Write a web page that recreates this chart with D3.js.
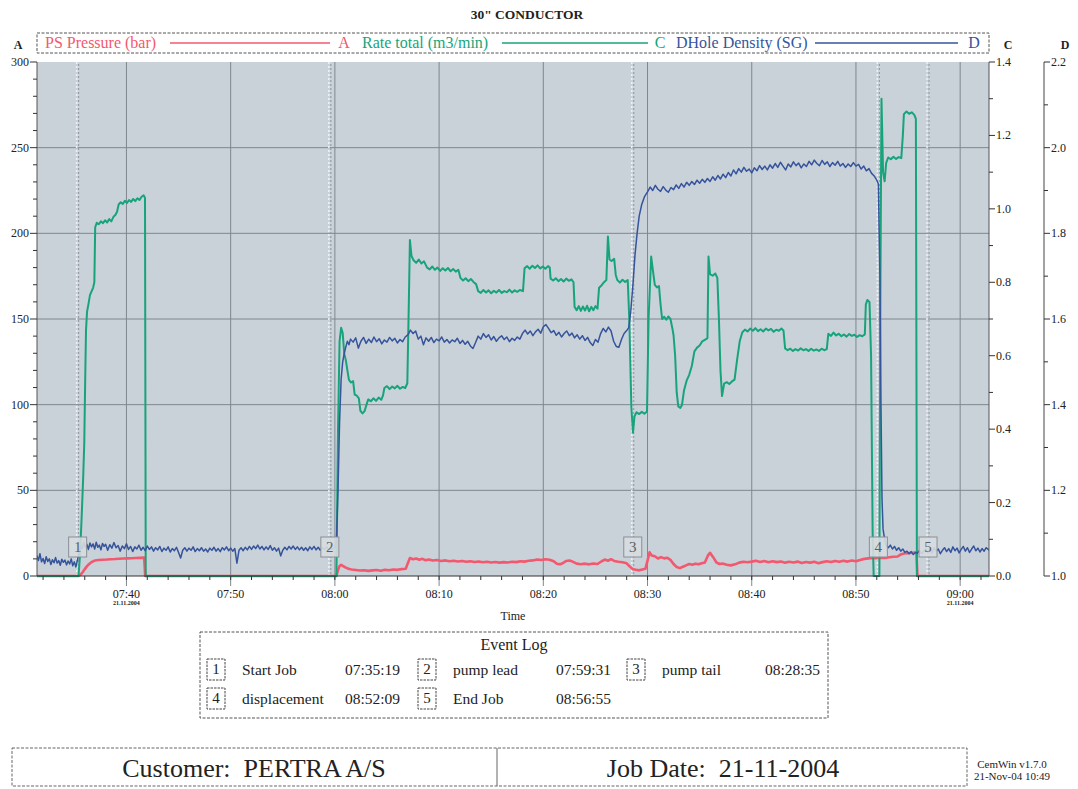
<!DOCTYPE html>
<html>
<head>
<meta charset="utf-8">
<script src="https://cdn.jsdelivr.net/npm/d3@7"></script>
<style>
html, body { margin: 0; padding: 0; background: #fff; }
svg { display: block; font-family: "Liberation Serif", "Times New Roman", serif; }
</style>
</head>
<body>
<svg id="chart" width="1078" height="789"></svg>
<script>
// Logged readings: [minutes after 07:00, value]
const pressureReadings = [
  [31.4,0],[35.4,0],[35.6,0.8],[35.8,2.2],[36.0,4.0],[36.2,5.6],[36.4,6.9],[36.6,7.9],[36.8,8.6],[37.0,9.0],
  [37.3,9.3],[37.7,9.5],[38.1,9.6],[38.5,9.8],[38.9,9.9],[39.3,10.1],[39.7,10.2],[40.1,10.3],[40.5,10.4],[40.9,10.5],
  [41.3,10.6],[41.7,10.7],[41.8,0],[60.15,0],[60.3,3.5],[60.45,5.8],[60.6,6.5],[60.8,5.8],[61.0,5.0],[61.3,4.2],
  [61.6,3.8],[62.0,3.5],[62.4,3.2],[62.8,3.4],[63.2,3.0],[63.6,3.3],[64.0,3.5],[64.4,3.1],[64.8,3.6],[65.2,3.4],
  [65.6,3.8],[66.0,3.6],[66.4,4.0],[66.8,4.2],[67.0,7.5],[67.2,10.5],[67.5,9.8],[67.8,10.2],[68.1,9.5],[68.4,10.0],
  [68.7,9.2],[69.0,9.6],[69.4,9.0],[69.8,9.3],[70.2,8.8],[70.6,9.1],[71.0,8.6],[71.4,8.9],[71.8,8.5],[72.2,8.8],
  [72.6,8.3],[73.0,8.6],[73.4,8.2],[73.8,8.5],[74.2,8.0],[74.6,8.3],[75.0,7.9],[75.4,8.2],[75.8,7.8],[76.2,8.1],
  [76.6,7.9],[77.0,8.3],[77.4,8.1],[77.8,8.6],[78.2,8.4],[78.6,8.9],[79.0,9.1],[79.4,9.6],[79.8,9.3],[80.2,9.8],
  [80.6,9.5],[81.0,8.6],[81.3,7.2],[81.6,6.8],[81.9,7.6],[82.2,8.8],[82.5,9.0],[82.8,8.4],[83.2,7.2],[83.6,6.9],
  [84.0,7.2],[84.4,6.8],[84.8,7.3],[85.2,7.0],[85.6,8.6],[85.9,9.6],[86.2,8.9],[86.5,9.8],[86.8,8.8],[87.2,8.3],
  [87.6,8.0],[88.0,7.4],[88.3,5.5],[88.6,4.0],[88.9,3.6],[89.2,3.3],[89.5,3.8],[89.8,4.2],[90.0,9.0],[90.2,13.8],
  [90.4,12.0],[90.7,11.5],[91.0,10.2],[91.3,11.0],[91.6,10.3],[91.9,10.6],[92.2,9.4],[92.5,7.0],[92.8,5.2],[93.1,4.6],
  [93.4,5.4],[93.7,6.2],[94.0,7.0],[94.3,6.6],[94.6,7.2],[94.9,6.8],[95.2,7.4],[95.5,7.9],[95.8,12.0],[96.0,13.5],
  [96.3,11.0],[96.6,8.0],[96.9,7.0],[97.2,7.3],[97.6,6.6],[98.0,6.2],[98.4,6.8],[98.8,7.8],[99.2,8.3],[99.6,8.0],
  [100.0,8.4],[100.4,8.9],[100.8,8.2],[101.2,8.7],[101.6,8.0],[102.0,8.6],[102.4,8.1],[102.8,8.5],[103.2,7.8],[103.6,8.3],
  [104.0,7.9],[104.4,8.4],[104.8,7.6],[105.2,8.2],[105.6,7.8],[106.0,8.3],[106.4,7.5],[106.8,8.1],[107.2,8.6],[107.6,8.2],
  [108.0,8.8],[108.4,8.3],[108.8,8.9],[109.2,8.4],[109.6,9.0],[110.0,8.6],[110.4,9.4],[110.8,10.0],[111.2,10.3],[111.6,10.6],
  [112.0,10.4],[112.4,10.7],[112.8,10.5],[113.2,10.9],[113.6,11.2],[114.0,11.4],[114.3,12.6],[114.6,13.1],[115.0,13.3],[115.4,13.6],
  [115.8,13.8],[115.9,0],[122.8,0]
];

const rateReadings = [
  [31.4,0],[35.4,0],[35.55,0.06],[35.7,0.16],[35.85,0.27],[35.95,0.36],[36.05,0.55],[36.12,0.67],[36.22,0.72],[36.35,0.74],
  [36.5,0.765],[36.65,0.775],[36.8,0.785],[36.92,0.80],[37.0,0.95],[37.15,0.962],[37.35,0.958],[37.55,0.966],[37.75,0.961],[37.95,0.969],
  [38.15,0.963],[38.35,0.972],[38.55,0.966],[38.75,0.978],[38.95,0.984],[39.1,0.992],[39.25,1.012],[39.45,1.018],[39.65,1.013],[39.85,1.022],
  [40.05,1.016],[40.25,1.024],[40.45,1.019],[40.65,1.027],[40.85,1.021],[41.05,1.029],[41.25,1.024],[41.45,1.033],[41.65,1.037],[41.78,1.030],
  [41.85,0],[60.15,0],[60.3,0.40],[60.45,0.64],[60.6,0.676],[60.75,0.662],[60.9,0.605],[61.05,0.588],[61.2,0.560],[61.35,0.534],
  [61.55,0.527],[61.75,0.531],[61.9,0.494],[62.1,0.491],[62.3,0.484],[62.45,0.450],[62.65,0.443],[62.85,0.449],[63.05,0.468],[63.2,0.481],
  [63.45,0.476],[63.7,0.484],[63.95,0.477],[64.2,0.486],[64.45,0.480],[64.62,0.492],[64.75,0.512],[65.0,0.517],[65.25,0.509],[65.5,0.516],
  [65.75,0.511],[66.0,0.518],[66.25,0.510],[66.5,0.515],[66.75,0.512],[66.95,0.525],[67.1,0.75],[67.2,0.915],[67.35,0.872],[67.55,0.860],
  [67.8,0.853],[68.05,0.862],[68.3,0.851],[68.55,0.857],[68.85,0.840],[69.1,0.835],[69.35,0.843],[69.6,0.834],[69.85,0.840],[70.1,0.831],
  [70.35,0.838],[70.6,0.832],[70.85,0.839],[71.1,0.830],[71.35,0.836],[71.6,0.829],[71.85,0.834],[72.05,0.812],[72.3,0.805],[72.55,0.811],
  [72.8,0.803],[73.05,0.809],[73.3,0.801],[73.55,0.795],[73.75,0.776],[74.0,0.771],[74.25,0.779],[74.5,0.772],[74.75,0.778],[75.0,0.770],
  [75.25,0.777],[75.5,0.772],[75.75,0.779],[76.0,0.771],[76.25,0.776],[76.5,0.773],[76.75,0.780],[77.0,0.772],[77.25,0.778],[77.5,0.774],
  [77.75,0.779],[78.05,0.776],[78.2,0.838],[78.45,0.844],[78.7,0.837],[78.95,0.845],[79.2,0.839],[79.45,0.846],[79.7,0.838],[79.95,0.843],
  [80.2,0.837],[80.45,0.844],[80.62,0.840],[80.7,0.810],[80.95,0.805],[81.2,0.811],[81.45,0.803],[81.7,0.809],[81.95,0.802],[82.2,0.810],
  [82.45,0.804],[82.7,0.808],[82.9,0.800],[83.0,0.733],[83.2,0.724],[83.4,0.735],[83.6,0.722],[83.8,0.734],[84.0,0.723],[84.2,0.736],
  [84.4,0.721],[84.6,0.733],[84.8,0.724],[85.0,0.735],[85.2,0.728],[85.35,0.785],[85.6,0.792],[85.85,0.801],[86.05,0.806],[86.2,0.925],
  [86.35,0.862],[86.55,0.858],[86.8,0.864],[86.95,0.820],[87.1,0.806],[87.35,0.799],[87.6,0.807],[87.85,0.801],[88.1,0.806],[88.25,0.70],
  [88.45,0.46],[88.6,0.39],[88.75,0.435],[88.95,0.446],[89.2,0.441],[89.45,0.447],[89.7,0.442],[89.95,0.448],[90.1,0.70],[90.35,0.870],
  [90.55,0.825],[90.7,0.793],[90.9,0.786],[91.1,0.790],[91.25,0.740],[91.4,0.700],[91.6,0.706],[91.8,0.698],[92.0,0.707],[92.2,0.700],
  [92.4,0.672],[92.5,0.655],[92.65,0.600],[92.8,0.500],[92.95,0.462],[93.15,0.458],[93.3,0.465],[93.5,0.505],[93.75,0.532],[94.0,0.548],
  [94.25,0.572],[94.5,0.612],[94.75,0.622],[95.0,0.628],[95.25,0.639],[95.5,0.643],[95.75,0.648],[95.85,0.870],[96.0,0.822],[96.25,0.818],
  [96.5,0.824],[96.7,0.812],[96.85,0.700],[97.0,0.560],[97.15,0.490],[97.35,0.524],[97.6,0.528],[97.85,0.523],[98.1,0.530],[98.35,0.535],
  [98.6,0.590],[98.85,0.640],[99.1,0.664],[99.35,0.671],[99.6,0.666],[99.85,0.674],[100.1,0.668],[100.35,0.675],[100.6,0.667],[100.85,0.672],
  [101.1,0.666],[101.35,0.674],[101.6,0.669],[101.85,0.673],[102.1,0.665],[102.35,0.671],[102.6,0.668],[102.85,0.674],[103.05,0.668],[103.2,0.620],
  [103.45,0.615],[103.7,0.619],[103.95,0.613],[104.2,0.618],[104.45,0.614],[104.7,0.620],[104.95,0.615],[105.2,0.618],[105.45,0.613],[105.7,0.619],
  [105.95,0.614],[106.2,0.617],[106.45,0.613],[106.7,0.619],[106.95,0.615],[107.2,0.618],[107.35,0.660],[107.6,0.654],[107.85,0.663],[108.1,0.655],
  [108.35,0.660],[108.6,0.653],[108.85,0.658],[109.1,0.652],[109.35,0.659],[109.6,0.654],[109.85,0.657],[110.1,0.651],[110.35,0.656],[110.6,0.653],
  [110.85,0.658],[110.95,0.740],[111.1,0.752],[111.3,0.746],[111.45,0.600],[111.6,0.120],[111.7,0],[112.25,0],[112.35,0.80],[112.45,1.30],
  [112.6,1.10],[112.75,1.075],[112.9,1.125],[113.1,1.140],[113.35,1.135],[113.6,1.142],[113.85,1.136],[114.1,1.141],[114.35,1.138],[114.5,1.200],
  [114.6,1.258],[114.85,1.265],[115.1,1.259],[115.35,1.263],[115.6,1.256],[115.75,1.245],[115.85,0],[122.8,0]
];

const densityReadings = [
  [31.4,1.048],[31.55,1.036],[31.7,1.052],[31.85,1.033],[32.0,1.041],[32.15,1.029],[32.3,1.045],[32.45,1.034],[32.6,1.040],[32.75,1.027],
  [32.9,1.038],[33.05,1.031],[33.2,1.043],[33.35,1.030],[33.5,1.036],[33.65,1.025],[33.8,1.039],[33.95,1.032],[34.1,1.037],[34.25,1.026],
  [34.4,1.035],[34.55,1.028],[34.7,1.040],[34.85,1.024],[35.0,1.033],[35.15,1.021],[35.3,1.038],[35.45,1.055],[35.6,1.071],[35.75,1.064],
  [35.9,1.078],[36.05,1.066],[36.2,1.074],[36.35,1.062],[36.5,1.077],[36.65,1.068],[36.8,1.075],[36.95,1.063],[37.1,1.079],[37.25,1.067],
  [37.4,1.072],[37.55,1.061],[37.7,1.076],[37.85,1.069],[38.0,1.074],[38.2,1.060],[38.4,1.073],[38.6,1.065],[38.8,1.078],[39.0,1.066],
  [39.2,1.071],[39.4,1.058],[39.6,1.070],[39.8,1.064],[40.0,1.075],[40.2,1.062],[40.4,1.069],[40.6,1.057],[40.8,1.068],[41.0,1.063],
  [41.2,1.072],[41.4,1.060],[41.6,1.067],[41.8,1.059],[42.0,1.070],[42.2,1.062],[42.4,1.068],[42.6,1.058],[42.8,1.066],[43.0,1.061],
  [43.2,1.069],[43.4,1.057],[43.6,1.065],[43.8,1.060],[44.0,1.068],[44.2,1.056],[44.4,1.064],[44.6,1.059],[44.8,1.067],[45.0,1.055],
  [45.2,1.042],[45.4,1.060],[45.6,1.066],[45.8,1.058],[46.0,1.065],[46.2,1.060],[46.4,1.068],[46.6,1.057],[46.8,1.064],[47.0,1.059],
  [47.2,1.066],[47.4,1.058],[47.6,1.063],[47.8,1.056],[48.0,1.065],[48.2,1.060],[48.4,1.067],[48.6,1.058],[48.8,1.064],[49.0,1.057],
  [49.2,1.066],[49.4,1.061],[49.6,1.068],[49.8,1.059],[50.0,1.065],[50.2,1.058],[50.4,1.064],[50.6,1.030],[50.8,1.060],[51.0,1.066],
  [51.2,1.059],[51.4,1.067],[51.6,1.061],[51.8,1.069],[52.0,1.062],[52.2,1.070],[52.4,1.064],[52.6,1.072],[52.8,1.063],[53.0,1.069],
  [53.2,1.061],[53.4,1.068],[53.6,1.062],[53.8,1.071],[54.0,1.060],[54.2,1.066],[54.4,1.058],[54.6,1.065],[54.8,1.047],[55.0,1.060],
  [55.2,1.067],[55.4,1.061],[55.6,1.069],[55.8,1.063],[56.0,1.070],[56.2,1.062],[56.4,1.068],[56.6,1.061],[56.8,1.067],[57.0,1.060],
  [57.2,1.066],[57.4,1.059],[57.6,1.068],[57.8,1.062],[58.0,1.069],[58.2,1.061],[58.4,1.067],[58.6,1.060],[58.8,1.066],[59.0,1.062],
  [59.2,1.068],[59.4,1.061],[59.6,1.066],[59.8,1.063],[60.0,1.067],[60.15,1.080],[60.3,1.20],[60.45,1.36],[60.6,1.46],[60.75,1.50],
  [60.9,1.52],[61.05,1.535],[61.2,1.548],[61.35,1.540],[61.5,1.553],[61.75,1.546],[62.0,1.556],[62.25,1.532],[62.5,1.548],[62.75,1.557],
  [63.0,1.543],[63.25,1.553],[63.5,1.545],[63.75,1.558],[64.0,1.547],[64.25,1.554],[64.5,1.542],[64.75,1.551],[65.0,1.546],[65.25,1.557],
  [65.5,1.549],[65.75,1.555],[66.0,1.544],[66.25,1.552],[66.5,1.547],[66.75,1.558],[67.0,1.563],[67.25,1.574],[67.5,1.566],[67.75,1.572],
  [68.0,1.553],[68.25,1.560],[68.5,1.540],[68.75,1.556],[69.0,1.548],[69.25,1.557],[69.5,1.545],[69.75,1.553],[70.0,1.549],[70.25,1.558],
  [70.5,1.546],[70.75,1.552],[71.0,1.544],[71.25,1.551],[71.5,1.547],[71.75,1.555],[72.0,1.543],[72.25,1.550],[72.5,1.541],[72.75,1.548],
  [73.0,1.537],[73.25,1.531],[73.5,1.545],[73.75,1.560],[74.0,1.553],[74.25,1.566],[74.5,1.557],[74.75,1.563],[75.0,1.551],[75.25,1.559],
  [75.5,1.548],[75.75,1.556],[76.0,1.561],[76.25,1.552],[76.5,1.558],[76.75,1.547],[77.0,1.555],[77.25,1.550],[77.5,1.558],[77.75,1.553],
  [78.0,1.566],[78.25,1.574],[78.5,1.565],[78.75,1.572],[79.0,1.561],[79.25,1.570],[79.5,1.576],[79.75,1.567],[80.0,1.582],[80.25,1.587],
  [80.5,1.578],[80.75,1.568],[81.0,1.573],[81.25,1.562],[81.5,1.569],[81.75,1.558],[82.0,1.566],[82.25,1.572],[82.5,1.561],[82.75,1.567],
  [83.0,1.556],[83.25,1.563],[83.5,1.553],[83.75,1.561],[84.0,1.550],[84.25,1.557],[84.5,1.545],[84.75,1.538],[85.0,1.552],[85.25,1.546],
  [85.5,1.566],[85.75,1.578],[86.0,1.570],[86.25,1.581],[86.5,1.572],[86.75,1.548],[87.0,1.536],[87.25,1.534],[87.5,1.552],[87.75,1.566],
  [88.0,1.573],[88.2,1.580],[88.4,1.62],[88.6,1.68],[88.8,1.75],[89.0,1.80],[89.2,1.84],[89.45,1.868],[89.7,1.885],[90.0,1.897],
  [90.25,1.908],[90.5,1.900],[90.75,1.912],[91.0,1.903],[91.25,1.898],[91.5,1.909],[91.75,1.901],[92.0,1.896],[92.25,1.907],[92.5,1.902],
  [92.75,1.913],[93.0,1.905],[93.25,1.916],[93.5,1.908],[93.75,1.919],[94.0,1.912],[94.25,1.921],[94.5,1.914],[94.75,1.924],[95.0,1.917],
  [95.25,1.926],[95.5,1.919],[95.75,1.928],[96.0,1.921],[96.25,1.932],[96.5,1.924],[96.75,1.935],[97.0,1.927],[97.25,1.938],[97.5,1.930],
  [97.75,1.942],[98.0,1.934],[98.25,1.948],[98.5,1.939],[98.75,1.951],[99.0,1.943],[99.25,1.954],[99.5,1.945],[99.75,1.950],[100.0,1.941],
  [100.25,1.953],[100.5,1.946],[100.75,1.958],[101.0,1.949],[101.25,1.957],[101.5,1.948],[101.75,1.960],[102.0,1.952],[102.25,1.963],[102.5,1.954],
  [102.75,1.966],[103.0,1.957],[103.25,1.948],[103.5,1.962],[103.75,1.955],[104.0,1.967],[104.25,1.958],[104.5,1.964],[104.75,1.953],[105.0,1.962],
  [105.25,1.956],[105.5,1.968],[105.75,1.960],[106.0,1.971],[106.25,1.963],[106.5,1.958],[106.75,1.970],[107.0,1.961],[107.25,1.967],[107.5,1.956],
  [107.75,1.965],[108.0,1.959],[108.25,1.968],[108.5,1.957],[108.75,1.963],[109.0,1.954],[109.25,1.962],[109.5,1.956],[109.75,1.965],[110.0,1.957],
  [110.25,1.961],[110.5,1.950],[110.75,1.957],[111.0,1.946],[111.25,1.951],[111.5,1.940],[111.75,1.934],[112.0,1.924],[112.15,1.915],[112.3,1.70],
  [112.4,1.40],[112.5,1.18],[112.6,1.11],[112.75,1.085],[112.9,1.072],[113.1,1.066],[113.3,1.072],[113.5,1.063],[113.7,1.069],[113.9,1.060],
  [114.1,1.066],[114.3,1.058],[114.5,1.063],[114.7,1.055],[114.9,1.058],[115.1,1.052],[115.3,1.057],[115.5,1.050],[115.7,1.055],[115.9,1.053],
  [116.1,1.060],[116.3,1.052],[116.5,1.058],[116.7,1.063],[116.9,1.055],[117.1,1.062],[117.3,1.054],[117.5,1.066],[117.7,1.058],[117.9,1.063],
  [118.1,1.052],[118.3,1.060],[118.5,1.066],[118.7,1.057],[118.9,1.064],[119.1,1.055],[119.3,1.068],[119.5,1.059],[119.7,1.065],[119.9,1.054],
  [120.1,1.062],[120.3,1.069],[120.5,1.058],[120.7,1.066],[120.9,1.055],[121.1,1.063],[121.3,1.070],[121.5,1.059],[121.7,1.065],[121.9,1.056],
  [122.1,1.064],[122.3,1.058],[122.5,1.066],[122.8,1.060]
];

// Event log
const eventNumbers = [1, 2, 3, 4, 5];
const eventNames = ["Start Job", "pump lead", "pump tail", "displacement", "End Job"];
const eventTimes = ["07:35:19", "07:59:31", "08:28:35", "08:52:09", "08:56:55"];

// Axis ranges and ticks
const timeStart = "07:31:25";
const timeEnd = "09:02:46";
const pressureTicks = [0, 50, 100, 150, 200, 250, 300];
const rateTicks = [0, 0.2, 0.4, 0.6, 0.8, 1.0, 1.2, 1.4];
const densityTicks = [1.0, 1.2, 1.4, 1.6, 1.8, 2.0, 2.2];

const legendNames = ["PS Pressure (bar)", "Rate total (m3/min)", "DHole Density (SG)"];
const legendAxes = ["A", "C", "D"];
const jobTitle = "30\" CONDUCTOR";
const customerText = "Customer:  PERTRA A/S";
const jobDateText = "Job Date:  21-11-2004";
const versionLines = ["CemWin v1.7.0", "21-Nov-04 10:49"];

const colors = { pressure: "#f4586e", rate: "#17a47b", density: "#36549c" };

const svg = d3.select("#chart");
svg.append("rect").attr("width", 1078).attr("height", 789).attr("fill", "#fff");

const day = new Date(2004, 10, 21, 7, 0, 0);
const fromMinutes = m => new Date(day.getTime() + m * 60000);
const fromClock = s => { const [h, m, sec] = s.split(":").map(Number); return new Date(2004, 10, 21, h, m, sec); };

const L = 37, R = 989, T = 62, B = 576;
const x = d3.scaleTime().domain([fromClock(timeStart), fromClock(timeEnd)]).range([L, R]);
const yA = d3.scaleLinear().domain([0, 300]).range([B, T]);
const yC = d3.scaleLinear().domain([0, 1.4]).range([B, T]);
const yD = d3.scaleLinear().domain([1.0, 2.2]).range([B, T]);

const ink = "#222";

// Title
svg.append("text").attr("x", 527).attr("y", 19).attr("text-anchor", "middle")
  .attr("font-size", 13.5).attr("font-weight", "bold").attr("fill", ink).text(jobTitle);

// Plot background
svg.append("rect").attr("x", L).attr("y", T).attr("width", R - L).attr("height", B - T).attr("fill", "#c9d1d9");

// Grid
const gridColor = "#7f878f";
const majorTimes = d3.timeMinute.every(10).range(x.domain()[0], x.domain()[1]);
svg.append("g").selectAll("line").data(majorTimes).join("line")
  .attr("x1", d => x(d)).attr("x2", d => x(d)).attr("y1", T).attr("y2", B + 10)
  .attr("stroke", gridColor).attr("stroke-width", 1);
svg.append("g").selectAll("line").data(pressureTicks.filter(v => v > 0 && v < 300)).join("line")
  .attr("x1", L).attr("x2", R).attr("y1", d => yA(d)).attr("y2", d => yA(d))
  .attr("stroke", gridColor).attr("stroke-width", 1);

// Event lines
const events = eventNumbers.map((n, i) => ({ n, name: eventNames[i], time: eventTimes[i], date: fromClock(eventTimes[i]) }));
const evG = svg.append("g");
evG.selectAll("line.w").data(events).join("line").attr("class", "w")
  .attr("x1", d => x(d.date) - 1).attr("x2", d => x(d.date) - 1).attr("y1", T).attr("y2", B)
  .attr("stroke", "#eef1f4").attr("stroke-width", 1.5).attr("stroke-dasharray", "2,2");
evG.selectAll("line.g").data(events).join("line").attr("class", "g")
  .attr("x1", d => x(d.date) + 1).attr("x2", d => x(d.date) + 1).attr("y1", T).attr("y2", B)
  .attr("stroke", "#8e969e").attr("stroke-width", 1).attr("stroke-dasharray", "2,2").attr("stroke-dashoffset", 2);

// Series
const clip = svg.append("clipPath").attr("id", "plotClip").append("rect")
  .attr("x", L).attr("y", T - 2).attr("width", R - L).attr("height", B - T + 4);
const lineOf = y => d3.line().x(d => x(fromMinutes(d[0]))).y(d => y(d[1]));
const series = svg.append("g").attr("clip-path", "url(#plotClip)");
series.append("path").datum(pressureReadings).attr("d", lineOf(yA))
  .attr("fill", "none").attr("stroke", colors.pressure).attr("stroke-width", 2.6).attr("stroke-linejoin", "round");
series.append("path").datum(rateReadings).attr("d", lineOf(yC))
  .attr("fill", "none").attr("stroke", colors.rate).attr("stroke-width", 2).attr("stroke-linejoin", "round");
series.append("path").datum(densityReadings).attr("d", lineOf(yD))
  .attr("fill", "none").attr("stroke", colors.density).attr("stroke-width", 1.5).attr("stroke-linejoin", "round");

// Event markers on the plot
const mk = svg.append("g").selectAll("g").data(events).join("g")
  .attr("transform", d => `translate(${x(d.date)},547)`);
mk.append("rect").attr("x", -9).attr("y", -10).attr("width", 18).attr("height", 20)
  .attr("fill", "#d6dbdf").attr("fill-opacity", 0.9).attr("stroke", "#8a9097").attr("stroke-width", 1);
mk.append("text").attr("text-anchor", "middle").attr("y", 5).attr("font-size", 15)
  .attr("fill", "#5a5f66").text(d => d.n);

// Left axis (A)
const axG = svg.append("g").attr("fill", ink);
axG.append("line").attr("x1", L).attr("x2", L).attr("y1", T).attr("y2", B).attr("stroke", "#555");
axG.selectAll("line.minA").data(d3.range(0, 301, 10)).join("line").attr("class", "minA")
  .attr("x1", d => L - (d % 50 === 0 ? 7 : 4)).attr("x2", L).attr("y1", d => yA(d)).attr("y2", d => yA(d))
  .attr("stroke", "#333");
axG.selectAll("text.tA").data(pressureTicks).join("text").attr("class", "tA")
  .attr("x", L - 8).attr("y", d => yA(d) + 4).attr("text-anchor", "end").attr("font-size", 12).text(d => d);
axG.append("text").attr("x", 18).attr("y", 49).attr("text-anchor", "middle").attr("font-size", 12)
  .attr("font-weight", "bold").text(legendAxes[0]);

// Right axis (C)
axG.append("line").attr("x1", R).attr("x2", R).attr("y1", T).attr("y2", B).attr("stroke", "#555");
axG.selectAll("line.minC").data(d3.range(0, 15)).join("line").attr("class", "minC")
  .attr("x1", R).attr("x2", d => R + (d % 2 === 0 ? 6 : 4)).attr("y1", d => yC(d / 10)).attr("y2", d => yC(d / 10))
  .attr("stroke", "#333");
axG.selectAll("text.tC").data(rateTicks).join("text").attr("class", "tC")
  .attr("x", R + 7).attr("y", d => yC(d) + 4).attr("font-size", 12).text(d => d.toFixed(1));
axG.append("text").attr("x", 1008).attr("y", 49).attr("text-anchor", "middle").attr("font-size", 12)
  .attr("font-weight", "bold").text(legendAxes[1]);

// Outer right axis (D)
const DX = 1044;
axG.append("line").attr("x1", DX).attr("x2", DX).attr("y1", T).attr("y2", B).attr("stroke", "#444");
axG.selectAll("line.minD").data(d3.range(10, 23)).join("line").attr("class", "minD")
  .attr("x1", DX).attr("x2", d => DX + (d % 2 === 0 ? 6 : 4)).attr("y1", d => yD(d / 10)).attr("y2", d => yD(d / 10))
  .attr("stroke", "#333");
axG.selectAll("text.tD").data(densityTicks).join("text").attr("class", "tD")
  .attr("x", DX + 7).attr("y", d => yD(d) + 4).attr("font-size", 12).text(d => d.toFixed(1));
axG.append("text").attr("x", 1065).attr("y", 49).attr("text-anchor", "middle").attr("font-size", 12)
  .attr("font-weight", "bold").text(legendAxes[2]);

// Time axis
axG.append("line").attr("x1", L).attr("x2", R).attr("y1", B).attr("y2", B).attr("stroke", "#333");
const minorTimes = d3.timeMinute.every(2).range(x.domain()[0], x.domain()[1]);
axG.selectAll("line.minT").data(minorTimes).join("line").attr("class", "minT")
  .attr("x1", d => x(d)).attr("x2", d => x(d)).attr("y1", B).attr("y2", B + 4).attr("stroke", "#333");
const fmt = d3.timeFormat("%H:%M");
axG.selectAll("text.tT").data(majorTimes).join("text").attr("class", "tT")
  .attr("x", d => x(d)).attr("y", 598).attr("text-anchor", "middle").attr("font-size", 12).text(d => fmt(d));
const dayFmt = d3.timeFormat("%d.%m.%Y");
axG.selectAll("text.tDay").data([majorTimes[0], majorTimes[majorTimes.length - 1]]).join("text").attr("class", "tDay")
  .attr("x", d => x(d)).attr("y", 605).attr("text-anchor", "middle").attr("font-size", 6)
  .attr("font-weight", "bold").text(d => dayFmt(d));
axG.append("text").attr("x", (L + R) / 2).attr("y", 620).attr("text-anchor", "middle").attr("font-size", 12).text("Time");

// Legend
const lg = svg.append("g");
lg.append("rect").attr("x", L).attr("y", 33).attr("width", R - L).attr("height", 20)
  .attr("fill", "#fff").attr("stroke", "#555").attr("stroke-dasharray", "3,1.5");
const legendItems = [
  { name: legendNames[0], axis: legendAxes[0], color: colors.pressure, tx: 45, l1: 170, l2: 330, ax: 344 },
  { name: legendNames[1], axis: legendAxes[1], color: colors.rate, tx: 362, l1: 502, l2: 648, ax: 660 },
  { name: legendNames[2], axis: legendAxes[2], color: colors.density, tx: 676, l1: 815, l2: 958, ax: 974 }
];
legendItems.forEach(it => {
  lg.append("text").attr("x", it.tx).attr("y", 48).attr("font-size", 16).attr("fill", it.color).text(it.name);
  lg.append("line").attr("x1", it.l1).attr("x2", it.l2).attr("y1", 43).attr("y2", 43)
    .attr("stroke", it.color).attr("stroke-width", 1.5);
  lg.append("text").attr("x", it.ax).attr("y", 48).attr("text-anchor", "middle").attr("font-size", 16)
    .attr("fill", it.color).text(it.axis);
});

// Event log table
const el = svg.append("g");
el.append("rect").attr("x", 200).attr("y", 632).attr("width", 628).attr("height", 86)
  .attr("fill", "#fff").attr("stroke", "#555").attr("stroke-dasharray", "3,1.5");
el.append("text").attr("x", 514).attr("y", 650).attr("text-anchor", "middle").attr("font-size", 16)
  .attr("fill", ink).text("Event Log");
const colX = [207, 418, 627];
const rowY = [669, 698];
events.forEach((e, i) => {
  const cx = colX[i % 3], cy = rowY[Math.floor(i / 3)];
  el.append("rect").attr("x", cx).attr("y", cy - 10).attr("width", 18).attr("height", 21)
    .attr("fill", "#fff").attr("stroke", "#444").attr("stroke-dasharray", "2.5,1");
  el.append("text").attr("x", cx + 9).attr("y", cy + 5).attr("text-anchor", "middle").attr("font-size", 15)
    .attr("fill", ink).text(e.n);
  el.append("text").attr("x", cx + 35).attr("y", cy + 6).attr("font-size", 15.5).attr("fill", ink).text(e.name);
  el.append("text").attr("x", cx + 138).attr("y", cy + 6).attr("font-size", 15.5).attr("fill", ink).text(e.time);
});

// Footer
const ft = svg.append("g");
ft.append("rect").attr("x", 12).attr("y", 748).attr("width", 955).attr("height", 38)
  .attr("fill", "#fff").attr("stroke", "#666").attr("stroke-dasharray", "3,1.5");
ft.append("line").attr("x1", 497).attr("x2", 497).attr("y1", 748).attr("y2", 786).attr("stroke", "#666");
ft.append("text").attr("x", 254).attr("y", 777).attr("text-anchor", "middle").attr("font-size", 26)
  .attr("fill", ink).style("white-space", "pre").text(customerText);
ft.append("text").attr("x", 723).attr("y", 777).attr("text-anchor", "middle").attr("font-size", 26)
  .attr("fill", ink).style("white-space", "pre").text(jobDateText);
ft.selectAll("text.ver").data(versionLines).join("text").attr("class", "ver")
  .attr("x", 1012).attr("y", (d, i) => 768 + i * 12).attr("text-anchor", "middle").attr("font-size", 11)
  .attr("fill", ink).text(d => d);
</script>
</body>
</html>
